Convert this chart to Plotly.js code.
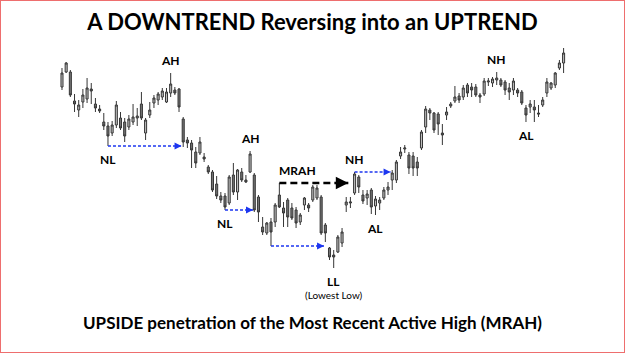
<!DOCTYPE html>
<html>
<head>
<meta charset="utf-8">
<script src="https://cdn.plot.ly/plotly-3.0.1.min.js"></script>
<style>
  html, body { margin: 0; padding: 0; background: #fff; }
  #wrap { position: relative; width: 625px; height: 353px; }
  #chart { width: 625px; height: 353px; }
  #frame { position: absolute; left: 0; top: 0; width: 625px; height: 353px;
           box-sizing: border-box; border: 1px solid #ee6e6e; pointer-events: none; }
</style>
</head>
<body>
<div id="wrap"><div id="chart"></div><div id="frame"></div></div>
<script>
// Daily bars: a downtrend that bottoms out and turns into an uptrend
const highs = [232,238,230,206,200,211,222,217,202,195,187,178,179,199,188,182,185,196,192,208,
               182,198,205,208,212,212,227,213,212,183,163,160,153,163,147,135,130,124,108,107,
               125,137,131,132,125,149,127,105,83,78,82,97,117,98,102,97,93,87,103,97,
               115,115,105,77,53,50,65,72,103,103,128,125,110,110,112,104,103,113,118,130,
               140,153,155,148,148,143,170,194,192,188,188,176,193,198,214,207,215,217,217,216,
               207,222,222,223,228,222,220,217,222,212,210,195,200,200,195,203,222,218,228,240,252];
const opens = [213,228,228,199,190,198,201,211,196,191,178,174,167,175,182,178,173,178,182,196,
               167,185,197,200,203,198,207,210,211,181,160,157,148,147,143,133,128,116,104,104,
               97,125,108,128,120,128,125,103,73,67,78,78,105,92,100,92,90,78,95,95,
               100,102,103,75,52,45,48,57,95,97,107,123,105,102,110,94,97,102,110,120,
               120,144,151,145,144,138,152,173,190,187,186,167,185,194,199,204,203,215,213,213,
               205,206,218,217,220,220,218,212,210,210,208,192,193,193,187,195,207,212,215,232,237];
const closes = [227,237,205,196,195,205,212,209,192,189,174,164,175,195,172,164,181,183,184,182,
                180,190,202,206,209,208,216,207,193,158,157,150,137,158,141,128,110,104,100,93,
                123,108,130,120,118,146,90,88,68,77,68,95,93,87,83,82,77,85,102,92,
                113,112,67,67,43,43,63,68,98,98,126,113,99,106,93,101,100,110,113,127,
                138,148,152,132,132,132,168,191,187,170,176,165,188,196,203,200,212,207,210,205,
                203,219,219,221,222,215,210,208,219,207,197,185,196,190,186,200,218,217,227,237,247];
const lows = [210,227,203,188,183,192,197,196,188,187,170,154,164,172,170,158,170,175,174,180,
              160,182,192,195,200,197,203,205,188,153,152,132,132,145,138,126,108,101,97,90,
              95,105,100,118,117,127,88,78,65,65,54,73,92,73,73,80,72,75,90,88,
              98,100,65,58,40,32,47,53,88,92,105,107,96,95,86,85,90,100,105,110,
              117,141,147,126,124,124,150,167,180,167,165,155,180,192,197,197,200,203,203,203,
              197,204,214,213,215,213,205,200,205,203,195,178,187,178,183,193,203,210,212,230,227];
const days = highs.map((_, i) => i);

// Swing labels: text, bar index, anchored above ('high') or below ('low') the bar
const labelText = ['AH', 'NL', 'AH', 'NL', 'NH', 'AL', 'LL', 'NH', 'AL'];
const labelBar  = [26, 11, 45, 39, 70, 75, 65, 104, 111];
const labelSide = ['high', 'low', 'high', 'low', 'high', 'low', 'low', 'high', 'low'];

// Projection arrows: start bar, end position, level taken from that bar's high or low
const arrowFrom = [11, 39, 50, 70, 52];
const arrowTo   = [28.6, 45.7, 62.7, 78.6, 68.5];
const arrowSide = ['low', 'low', 'low', 'high', 'high'];
const arrowKind = ['blue', 'blue', 'blue', 'blue', 'black'];

const LABEL_FONT = 'Lato, "Open Sans", sans-serif';
const BLUE = '#1c36f0';

const trace = {
  type: 'candlestick',
  x: days, open: opens, high: highs, low: lows, close: closes,
  increasing: { line: { color: '#363636', width: 1 }, fillcolor: '#bdbdbd' },
  decreasing: { line: { color: '#363636', width: 1 }, fillcolor: '#747474' },
  whiskerwidth: 0,
  hoverinfo: 'skip',
  showlegend: false
};

const level = (side, i) => side === 'high' ? highs[i] : lows[i];

const shapes = [];
const annotations = [];

arrowFrom.forEach((start, k) => {
  const y = level(arrowSide[k], start);
  const black = arrowKind[k] === 'black';
  const headLen = black ? 9 : 6;
  shapes.push({
    type: 'line', xref: 'x', yref: 'y',
    x0: start, x1: arrowTo[k], y0: y, y1: y,
    line: { color: black ? '#000' : BLUE, width: black ? 2.5 : 1.4, dash: black ? '7px,4px' : '3px,2px' }
  });
  annotations.push({
    x: arrowTo[k], y: y, xref: 'x', yref: 'y',
    ax: -headLen, ay: 0, text: '', showarrow: true,
    arrowhead: 2, arrowsize: 1, arrowwidth: black ? 2.5 : 1.4,
    arrowcolor: black ? '#000' : BLUE
  });
});

labelText.forEach((t, k) => {
  const side = labelSide[k];
  annotations.push({
    x: labelBar[k], y: level(side, labelBar[k]), xref: 'x', yref: 'y',
    text: t, showarrow: false,
    yanchor: side === 'high' ? 'bottom' : 'top',
    yshift: side === 'high' ? 3 : -4,
    font: { family: LABEL_FONT, size: 12, color: '#000', weight: 'bold' }
  });
});

// "MRAH" sits above the black arrow, "(Lowest Low)" under the LL label
annotations.push({
  x: (arrowFrom[4] + arrowTo[4]) / 2 - 4, y: level(arrowSide[4], arrowFrom[4]),
  xref: 'x', yref: 'y', text: 'MRAH', showarrow: false,
  yanchor: 'bottom', yshift: 3,
  font: { family: LABEL_FONT, size: 12, color: '#000', weight: 'bold' }
});
annotations.push({
  x: labelBar[6], y: lows[labelBar[6]], xref: 'x', yref: 'y',
  text: '(Lowest Low)', showarrow: false, yanchor: 'top', yshift: -19,
  font: { family: LABEL_FONT, size: 10, color: '#000' }
});

annotations.push({
  x: 0.5, y: 1 - 322 / 353, xref: 'paper', yref: 'paper',
  text: 'UPSIDE penetration of the Most Recent Active High (MRAH)',
  showarrow: false, yanchor: 'middle',
  font: { family: LABEL_FONT, size: 17, color: '#000', weight: 'bold' }
});

const layout = {
  width: 625, height: 353,
  margin: { l: 0, r: 0, t: 0, b: 0 },
  paper_bgcolor: '#fff', plot_bgcolor: '#fff',
  title: {
    text: 'A DOWNTREND Reversing into an UPTREND',
    x: 0.5, xanchor: 'center', y: 1 - 22 / 353, yanchor: 'middle', yref: 'container',
    font: { family: LABEL_FONT, size: 22, color: '#000', weight: 'bold' }
  },
  xaxis: { range: [-14.83, 134.69], visible: false, fixedrange: true, rangeslider: { visible: false } },
  yaxis: { range: [-53, 300], visible: false, fixedrange: true },
  boxgap: 0.3,
  shapes: shapes,
  annotations: annotations,
  showlegend: false
};

Plotly.newPlot('chart', [trace], layout, { displayModeBar: false, staticPlot: true });
</script>
</body>
</html>
